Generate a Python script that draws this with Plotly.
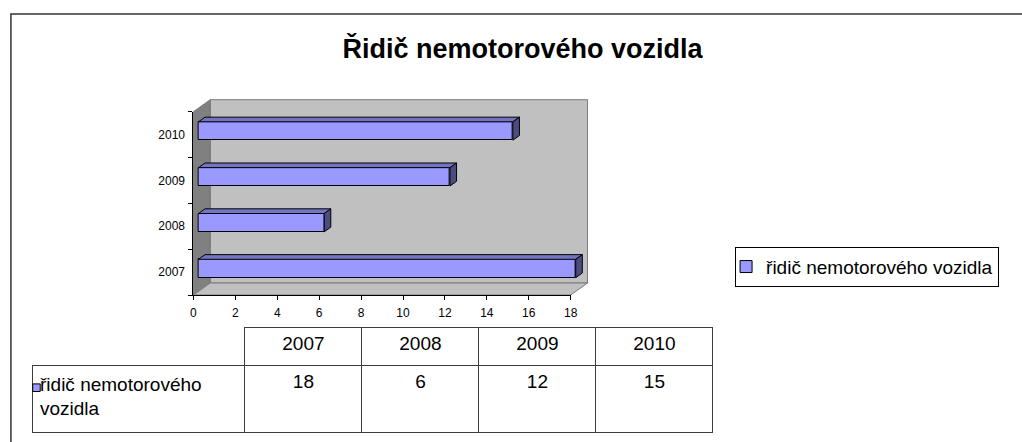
import plotly.graph_objects as go

# ---------------- data ----------------
categories = ["2007", "2008", "2009", "2010"]
values = [18, 6, 12, 15]
x_tick_values = [0, 2, 4, 6, 8, 10, 12, 14, 16, 18]
series_name = "řidič nemotorového vozidla"
chart_title = "Řidič nemotorového vozidla"
table_label = "řidič nemotorového<br>vozidla"

# ---------------- layout constants (pixels) ----------------
W, H = 1022, 442
FONT = "Liberation Sans, Arial, sans-serif"
X_MAX = 18
FX0, FX1 = 192.3, 573.3          # front plane x-extent (value 0 .. X_MAX)
FY_TOP, FY_BOT = 111.7, 295.0    # front plane y-extent (category -0.5 .. 3.5)
PXU = (FX1 - FX0) / X_MAX
N = len(categories)
PYU = (FY_BOT - FY_TOP) / N
DEPTH_X, DEPTH_Y = 17.0, 12.0    # 3-D depth offset in px
BX0, BX1, BY0, BY1 = 140.0, 640.0, 80.0, 330.0  # drawing area for 3-D parts
F0, F1 = 0.30, 0.69              # bar front / back depth fractions
BAR_W = 0.40

dxu = DEPTH_X / PXU
dyu = DEPTH_Y / PYU

def pxx(p):
    return p / W

def pxy(p):
    return 1 - p / H

big_xrange = [(BX0 - FX0) / PXU, (BX1 - FX0) / PXU]
big_yrange = [-0.5 - (BY1 - FY_BOT) / PYU, (N - 0.5) + (FY_TOP - BY0) / PYU]
big_xdomain = [pxx(BX0), pxx(BX1)]
big_ydomain = [pxy(BY1), pxy(BY0)]

fig = go.Figure()

# ---------------- walls (subplot x/y) ----------------
y_lo, y_hi = -0.5, N - 0.5

def poly(pts):
    xs = [p[0] for p in pts] + [pts[0][0]]
    ys = [p[1] for p in pts] + [pts[0][1]]
    return xs, ys

walls = [
    ([(dxu, y_lo + dyu), (X_MAX + dxu, y_lo + dyu), (X_MAX + dxu, y_hi + dyu), (dxu, y_hi + dyu)], "#c0c0c0"),
    ([(0, y_lo), (0, y_hi), (dxu, y_hi + dyu), (dxu, y_lo + dyu)], "#808080"),
    ([(0, y_lo), (X_MAX, y_lo), (X_MAX + dxu, y_lo + dyu), (dxu, y_lo + dyu)], "#c0c0c0"),
]
for pts, col in walls:
    xs, ys = poly(pts)
    fig.add_trace(go.Scatter(x=xs, y=ys, mode="lines", fill="toself", fillcolor=col,
                             line=dict(color="#7a7a7a", width=1), hoverinfo="skip",
                             showlegend=False, xaxis="x", yaxis="y"))

# ---------------- bars (subplot x2/y2) ----------------
cat_pos = list(range(N))
bar_y = [c + F0 * dyu for c in cat_pos]
fig.add_trace(go.Bar(orientation="h", x=values, y=bar_y, base=F0 * dxu, width=BAR_W,
                     marker=dict(color="#9999ff", line=dict(color="black", width=1)),
                     name=series_name, showlegend=True, hoverinfo="x",
                     xaxis="x2", yaxis="y2"))

ddx = (F1 - F0) * dxu
ddy = (F1 - F0) * dyu
top_x, top_y, side_x, side_y = [], [], [], []
for c, v in zip(bar_y, values):
    x0 = F0 * dxu
    x1 = v + F0 * dxu
    lo, hi = c - BAR_W / 2, c + BAR_W / 2
    xs, ys = poly([(x0, hi), (x1, hi), (x1 + ddx, hi + ddy), (x0 + ddx, hi + ddy)])
    top_x += xs + [None]
    top_y += ys + [None]
    xs, ys = poly([(x1, lo), (x1 + ddx, lo + ddy), (x1 + ddx, hi + ddy), (x1, hi)])
    side_x += xs + [None]
    side_y += ys + [None]

fig.add_trace(go.Scatter(x=top_x, y=top_y, mode="lines", fill="toself", fillcolor="#7474c4",
                         line=dict(color="black", width=1), hoverinfo="skip",
                         showlegend=False, xaxis="x2", yaxis="y2"))
fig.add_trace(go.Scatter(x=side_x, y=side_y, mode="lines", fill="toself", fillcolor="#4c4c80",
                         line=dict(color="black", width=1), hoverinfo="skip",
                         showlegend=False, xaxis="x2", yaxis="y2"))

# ---------------- front axes (subplot x3/y3) ----------------
fig.add_trace(go.Scatter(x=values, y=cat_pos, mode="markers", marker=dict(opacity=0),
                         hoverinfo="skip", showlegend=False, xaxis="x3", yaxis="y3"))

# ---------------- data table ----------------
TBL_L, TBL_C1, TBL_R = 29.3, 244.3, 717.3
TBL_TOP, TBL_MID = 327.3, 365.7
HDR_H, ROW_H = 38.4, 66.6
LINE_COL = "#3c3c3c"
TFONT = dict(family=FONT, size=19, color="black")

fig.add_trace(go.Table(
    domain=dict(x=[pxx(TBL_C1), pxx(TBL_R)], y=[0, pxy(TBL_TOP)]),
    header=dict(values=[[c] for c in categories], height=HDR_H, align="center",
                fill=dict(color="white"), line=dict(color=LINE_COL, width=1), font=TFONT),
    cells=dict(values=[[v] for v in values], height=ROW_H, align="center",
               fill=dict(color="white"), line=dict(color=LINE_COL, width=1), font=TFONT),
))
fig.add_trace(go.Table(
    domain=dict(x=[pxx(TBL_L), pxx(TBL_C1)], y=[0, pxy(TBL_MID)]),
    header=dict(values=[[table_label]], height=ROW_H, align="left",
                fill=dict(color="white"), line=dict(color=LINE_COL, width=1), font=TFONT),
    cells=dict(values=[]),
))

# ---------------- layout ----------------
hidden = dict(visible=False, showgrid=False, zeroline=False, fixedrange=True)
fig.update_layout(
    width=W, height=H,
    margin=dict(l=0, r=0, t=0, b=0, pad=0),
    paper_bgcolor="white", plot_bgcolor="rgba(0,0,0,0)",
    font=dict(family=FONT, color="black"),
    title=dict(text="<b>" + chart_title + "</b>", x=pxx(524.7), xref="paper", xanchor="center",
               y=pxy(49), yref="container", yanchor="middle",
               font=dict(family=FONT, size=27, color="black")),
    xaxis=dict(domain=big_xdomain, range=big_xrange, anchor="y", **hidden),
    yaxis=dict(domain=big_ydomain, range=big_yrange, anchor="x", **hidden),
    xaxis2=dict(domain=big_xdomain, range=big_xrange, anchor="y2", **hidden),
    yaxis2=dict(domain=big_ydomain, range=big_yrange, anchor="x2", **hidden),
    xaxis3=dict(domain=[pxx(FX0), pxx(FX1)], range=[0, X_MAX], anchor="y3",
                tickmode="array", tickvals=x_tick_values, ticks="outside", ticklen=4,
                tickcolor="black", tickwidth=1, showline=True, linecolor="black", linewidth=1,
                showgrid=False, zeroline=False, fixedrange=True, ticklabelstandoff=3,
                tickfont=dict(family=FONT, size=12, color="black")),
    yaxis3=dict(domain=[pxy(FY_BOT), pxy(FY_TOP)], range=[-0.5, N - 0.5], anchor="x3",
                tickmode="array", tickvals=cat_pos, ticktext=categories, ticks="",
                minor=dict(tickvals=[c - 0.5 for c in cat_pos] + [N - 0.5], ticks="outside",
                           ticklen=4, tickcolor="black", tickwidth=1),
                showline=True, linecolor="black", linewidth=1, showgrid=False, zeroline=False,
                fixedrange=True, ticklabelstandoff=5,
                tickfont=dict(family=FONT, size=12, color="black")),
    legend=dict(x=pxx(739.3), y=pxy(246.7), xanchor="left", yanchor="top",
                bordercolor="black", borderwidth=1, bgcolor="white", indentation=-10,
                font=dict(family=FONT, size=19, color="black")),
    bargap=0,
    shapes=[
        dict(type="rect", xref="paper", yref="paper", x0=pxx(8), x1=pxx(W + 20),
             y0=pxy(H + 20), y1=pxy(14), line=dict(color="#333333", width=1.5),
             fillcolor="rgba(0,0,0,0)", layer="below"),
        dict(type="rect", xref="paper", yref="paper", x0=pxx(30.0), x1=pxx(37.6),
             y0=pxy(391.5), y1=pxy(383.9), line=dict(color="black", width=1),
             fillcolor="#9999ff", layer="above"),
    ],
)

fig.write_html("out.html", config={"displayModeBar": False},
               post_script="document.body.style.margin='0';")
